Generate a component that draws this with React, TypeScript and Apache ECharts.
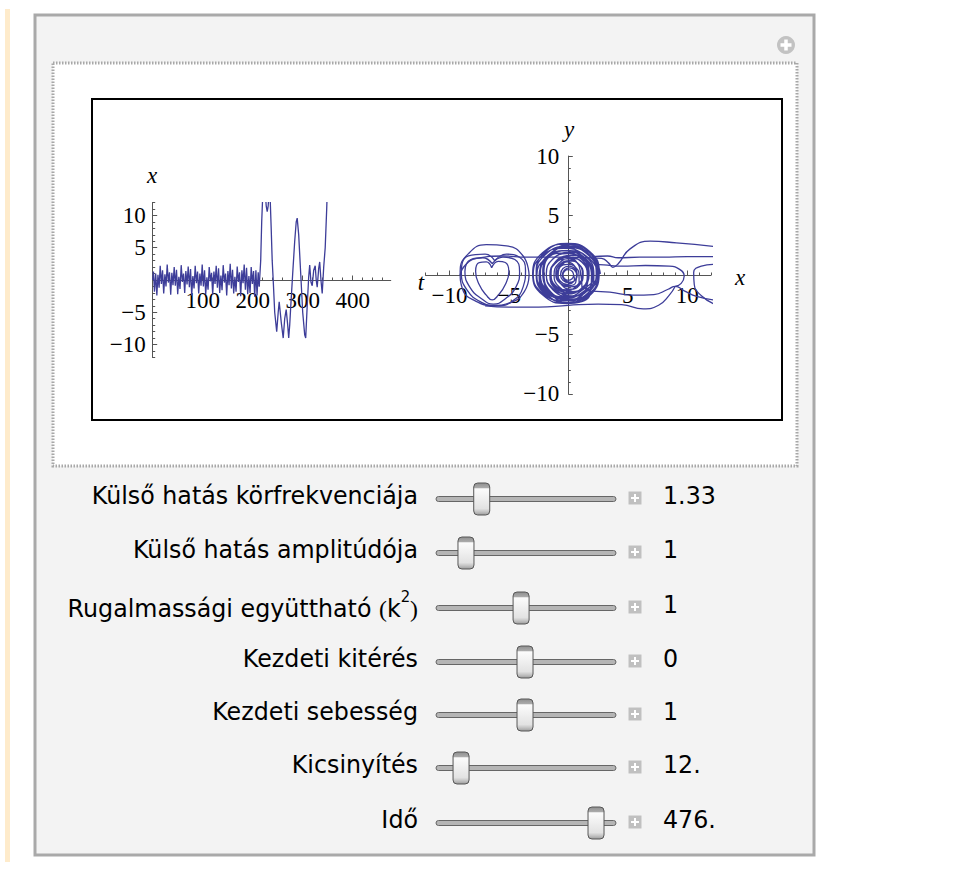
import React, { useEffect, useRef } from 'react';
import * as echarts from 'echarts';

// ---------- data: left plot x(t) ----------
const timeCalm: number[][] = [
  [0, 0], [1.5, 1.3], [3.5, -1.8], [6, 1.0], [8.3, -2.4], [10.5, 0.8], [12.8, -1.2], [15, 2.2], [17.4, -0.6], [19.7, 1.5],
  [22, -2.1], [24.4, 0.9], [26.6, -1.0], [29, 2.4], [31.3, -0.4], [33.6, 1.2], [36, -2.3], [38.3, 1.1], [40.6, -0.8], [43, 2.0],
  [45.3, -0.9], [47.6, 1.6], [50, -2.2], [52.3, 0.5], [54.6, -1.4], [57, 2.3], [59.3, -0.3], [61.7, 1.0], [64, -2.0], [66.3, 1.4],
  [68.7, -0.7], [71, 2.1], [73.4, -1.1], [75.7, 1.7], [78, -2.4], [80.4, 0.6], [82.7, -1.3], [85, 2.2], [87.4, -0.5], [89.7, 1.3],
  [92, -2.1], [94.4, 1.0], [96.7, -0.9], [99, 2.4], [101.4, -1.0], [103.7, 1.5], [106, -2.2], [108.4, 0.4], [110.7, -1.5], [113, 2.0],
  [115.4, -0.2], [117.7, 1.1], [120, -2.3], [122.4, 1.3], [124.7, -0.6], [127, 2.2], [129.4, -1.2], [131.7, 1.8], [134, -2.0], [136.4, 0.7],
  [138.7, -1.6], [141, 2.3], [143.4, -0.4], [145.7, 1.0], [148, -2.4], [150.4, 1.4], [152.7, -0.8], [155, 2.5], [157.4, -1.3], [159.7, 1.6],
  [162, -2.1], [164.4, 0.5], [166.7, -1.8], [169, 2.1], [171.4, -0.3], [173.7, 1.2], [176, -2.5], [178.4, 1.5], [180.7, -0.5], [183, 2.4],
  [185.4, -1.5], [187.7, 1.9], [190, -2.2], [192.4, 0.6], [194.7, -2.0], [197, 2.0], [199.4, -0.6], [201.7, 1.4], [204, -2.6], [206.4, 1.5],
  [208.7, -2.4], [211, 1.2], [213, -1.0]
];
const timeWild: number[][] = [
  [213, -1.0], [216, 3], [218, 9], [220, 13], [224, 15], [227, 11.5], [229, 10.6], [231, 11.5], [233, 14], [235, 12.5],
  [237, 8], [239, 3], [241, 0], [244, -5], [248, -8.0], [251, -5], [253, -3.4], [257, -6.5], [261, -9.0], [264, -6],
  [267, -4.6], [270, -7], [272, -9.0], [274, -7], [276, -4.2], [280, 1], [284, 6], [287, 9], [289, 9.6], [292, 7],
  [296, 1], [300, -5], [304, -8.5], [306, -9.0], [309, -4], [312, 0.5], [314, 2.3], [316.5, -0.3], [319, -0.9], [322, 1.5],
  [325, 2.2], [327, 0], [329, -1.1], [332, 1.8], [334, 2.8], [336.5, 0], [339, -2.1], [342, 2], [345, 5], [348, 11],
  [350, 16], [352, 22]
];

// ---------- data: right plot, phase portrait (x, y) ----------
const phaseCore: number[][] = [
  [2.70, 0.1], [1.87, 1.87], [-0.15, 2.6], [-2.17, 1.87], [-3.0, 0.1], [-2.17, -1.67], [-0.15, -2.4], [1.87, -1.67],
  [2.6, 0.3], [1.82, 1.96], [-0.05, 2.65], [-1.92, 1.96], [-2.7, 0.3], [-1.92, -1.36], [-0.05, -2.05], [1.82, -1.36],
  [2.15, 0.05], [1.4, 1.61], [-0.4, 2.25], [-2.2, 1.61], [-2.95, 0.05], [-2.2, -1.51], [-0.4, -2.15], [1.4, -1.51],
  [2.5, 0.05], [1.74, 1.71], [-0.1, 2.4], [-1.94, 1.71], [-2.7, 0.05], [-1.94, -1.61], [-0.1, -2.3], [1.74, -1.61],
  [2.45, -0.15], [1.73, 1.41], [0, 2.05], [-1.73, 1.41], [-2.45, -0.15], [-1.73, -1.71], [0, -2.35], [1.73, -1.71],
  [2.5, 0.1], [1.83, 1.83], [0.2, 2.55], [-1.43, 1.83], [-2.1, 0.1], [-1.43, -1.63], [0.2, -2.35], [1.83, -1.63],
  [1.95, -0.05], [1.28, 1.3], [-0.35, 1.85], [-1.98, 1.3], [-2.65, -0.05], [-1.98, -1.4], [-0.35, -1.95], [1.28, -1.4],
  [2.4, 0.1], [1.7, 1.66], [0, 2.3], [-1.7, 1.66], [-2.4, 0.1], [-1.7, -1.46], [0, -2.1], [1.7, -1.46],
  [2.35, 0.15], [1.71, 1.78], [0.15, 2.45], [-1.41, 1.78], [-2.05, 0.15], [-1.41, -1.48], [0.15, -2.15], [1.71, -1.48],
  [2.0, 0], [1.36, 1.45], [-0.2, 2.05], [-1.76, 1.45], [-2.4, 0], [-1.76, -1.45], [-0.2, -2.05], [1.36, -1.45],
  [1.65, 0.2], [1.09, 1.69], [-0.25, 2.3], [-1.59, 1.69], [-2.15, 0.2], [-1.59, -1.29], [-0.25, -1.9], [1.09, -1.29],
  [1.75, 0.1], [1.15, 1.48], [-0.3, 2.05], [-1.75, 1.48], [-2.35, 0.1], [-1.75, -1.28], [-0.3, -1.85], [1.15, -1.28],
  [2.15, -0.05], [1.61, 1.15], [0.3, 1.65], [-1.01, 1.15], [-1.55, -0.05], [-1.01, -1.25], [0.3, -1.75], [1.61, -1.25],
  [2.05, 0.05], [1.48, 1.36], [0.1, 1.9], [-1.28, 1.36], [-1.85, 0.05], [-1.28, -1.26], [0.1, -1.8], [1.48, -1.26],
  [1.65, 0.1], [1.14, 1.3], [-0.1, 1.8], [-1.34, 1.3], [-1.85, 0.1], [-1.34, -1.1], [-0.1, -1.6], [1.14, -1.1],
  [1.7, 0], [1.28, 0.99], [0.25, 1.4], [-0.78, 0.99], [-1.2, 0], [-0.78, -0.99], [0.25, -1.4], [1.28, -0.99],
  [1.6, 0], [1.15, 1.06], [0.05, 1.5], [-1.05, 1.06], [-1.5, 0], [-1.05, -1.06], [0.05, -1.5], [1.15, -1.06],
  [1.05, 0.1], [0.68, 1.13], [-0.2, 1.55], [-1.08, 1.13], [-1.45, 0.1], [-1.08, -0.93], [-0.2, -1.35], [0.68, -0.93],
  [1.2, 0.05], [0.8, 0.97], [-0.15, 1.35], [-1.1, 0.97], [-1.5, 0.05], [-1.1, -0.87], [-0.15, -1.25], [0.8, -0.87],
  [1.25, 0], [0.94, 0.85], [0.2, 1.2], [-0.54, 0.85], [-0.85, 0], [-0.54, -0.85], [0.2, -1.2], [0.94, -0.85],
  [1.25, 0.1], [0.91, 0.88], [0.1, 1.2], [-0.71, 0.88], [-1.05, 0.1], [-0.71, -0.68], [0.1, -1.0], [0.91, -0.68],
  [0.9, 0], [0.62, 0.64], [-0.05, 0.9], [-0.72, 0.64], [-1.0, 0], [-0.72, -0.64], [-0.05, -0.9], [0.62, -0.64],
  [0.7, 0.15], [0.47, 0.82], [-0.1, 1.1], [-0.67, 0.82], [-0.9, 0.15], [-0.67, -0.52], [-0.1, -0.8], [0.47, -0.52],
  [0.75, 0.05], [0.55, 0.55], [0.05, 0.75], [-0.45, 0.55], [-0.65, 0.05], [-0.45, -0.45], [0.05, -0.65], [0.55, -0.45],
  [0.7, 0], [0.52, 0.42], [0.1, 0.6], [-0.32, 0.42], [-0.5, 0], [-0.32, -0.42], [0.1, -0.6], [0.52, -0.42],
  [0.45, 0], [0.32, 0.32], [0, 0.45], [-0.32, 0.32], [-0.45, 0], [-0.32, -0.32], [0, -0.45], [0.32, -0.32], [0.45, 0]
];
const phaseOuterLoop: number[][] = [
  [-3.3, 0.0], [-3.8, 1.6], [-5.2, 2.45], [-6.9, 2.55], [-8.4, 1.8], [-9.1, 0.3], [-8.9, -1.2], [-7.8, -2.2],
  [-6.3, -2.55], [-4.8, -2.3], [-3.7, -1.4], [-3.3, 0.0]
];
const phaseHeartSmall: number[][] = [
  [-6.45, 0.6], [-6.9, 1.1], [-7.5, 1.05], [-7.8, 0.3], [-7.5, -0.8], [-6.9, -1.7], [-6.4, -2.1], [-5.9, -1.7],
  [-5.3, -0.8], [-5.0, 0.3], [-5.3, 1.05], [-5.9, 1.15], [-6.45, 0.6]
];
const phaseHeartMid: number[][] = [
  [-6.4, 0.95], [-7.2, 1.45], [-8.2, 1.3], [-8.7, 0.3], [-8.3, -1.0], [-7.3, -2.0], [-6.3, -2.45], [-5.3, -2.0],
  [-4.4, -1.0], [-4.1, 0.3], [-4.5, 1.3], [-5.5, 1.5], [-6.4, 0.95]
];
const phaseHeartBig: number[][] = [
  [-6.2, 1.2], [-7.0, 1.75], [-8.4, 1.6], [-9.0, 0.2], [-8.5, -1.3], [-7.3, -2.3], [-6.0, -2.6], [-4.7, -2.2],
  [-3.8, -1.0], [-3.6, 0.4], [-4.1, 1.5], [-5.2, 1.75], [-6.2, 1.2]
];
const phaseTopBranch: number[][] = [
  [-9.1, 0.0], [-8.7, 0.8], [-7.7, 1.4], [-5.5, 1.6], [-3.5, 1.5], [-1, 1.5], [1.5, 1.45], [2.8, 1.4], [3.4, 1.0],
  [3.75, 0.65], [4.2, 0.95], [5.2, 2.2], [6.9, 2.85], [9.1, 2.7], [12.3, 2.4]
];
const phaseMidBranch: number[][] = [
  [2.0, 1.55], [3.3, 1.6], [4.2, 1.45], [6, 1.5], [8, 1.5], [10, 1.55], [12.3, 1.55]
];
const phaseLowBranch: number[][] = [
  [2.2, 0.9], [3.0, 0.85], [4.5, 0.75], [6.5, 0.8], [8.5, 0.75], [9.4, 0.45], [9.75, -0.1], [9.5, -0.7], [9.0, -0.95]
];
const phaseUnderBranch: number[][] = [
  [2.0, -1.35], [3.5, -1.45], [5.5, -1.7], [7.2, -1.65], [8.4, -1.2], [9.0, -0.95], [9.8, -1.35], [10.8, -1.8], [12.3, -2.1]
];
const phaseBottomBranch: number[][] = [
  [-7.0, -2.6], [-5, -2.7], [-2.5, -2.7], [0, -2.55], [2.5, -2.45], [4.5, -2.5], [6.3, -2.85], [7.6, -2.55], [8.5, -1.7], [9.0, -0.95]
];
const phaseEdgeBranch: number[][] = [
  [12.3, 0.9], [11.2, 0.75], [10.55, 0.2], [10.6, -0.8], [11.2, -1.75], [12.3, -2.45]
];

// ---------- ticks ----------
const leftXMajor = [100, 200, 300, 400];
const leftXMinor = [20, 40, 60, 80, 120, 140, 160, 180, 220, 240, 260, 280, 320, 340, 360, 380, 420, 440, 460];
const symMajor = [-10, -5, 5, 10];
const sym12Minor = [-12, -11, -9, -8, -7, -6, -4, -3, -2, -1, 1, 2, 3, 4, 6, 7, 8, 9, 11, 12];
const sym10Minor = [-9, -8, -7, -6, -4, -3, -2, -1, 1, 2, 3, 4, 6, 7, 8, 9];

// ---------- controls ----------
const sliderLabels = [
  'Külső hatás körfrekvenciája',
  'Külső hatás amplitúdója',
  '{a|Rugalmassági együttható }{p|(}{a|k}{s|2}{p|)}',
  'Kezdeti kitérés',
  'Kezdeti sebesség',
  'Kicsinyítés',
  'Idő'
];
const sliderValues = ['1.33', '1', '1', '0', '1', '12.', '476.'];
const sliderFractions = [0.23, 0.134, 0.47, 0.494, 0.494, 0.104, 0.927];

const FONT_UI = '"DejaVu Sans", Verdana, sans-serif';
const FONT_PLOT = '"Liberation Serif", "Times New Roman", serif';
const CURVE = '#3d3d99';
const AXIS = '#555555';
const UI_SIZE = 24;
const UI_SCALE = 0.99;

function fmt(v: number) {
  return v < 0 ? '\u2212' + Math.abs(v) : String(v);
}

function axisPair(gridIndex: number, min: number, max: number, major: number[], minor: number[], pos: string, offset: number, margin: number) {
  const base = {
    type: 'value', gridIndex, min, max, position: pos, offset,
    splitLine: { show: false },
    axisLine: { show: true, onZero: false, lineStyle: { color: AXIS, width: 1 } }
  };
  return [
    {
      ...base,
      axisTick: { show: true, inside: true, length: 4.5, customValues: major, lineStyle: { color: AXIS, width: 1 } },
      axisLabel: { show: true, customValues: major, formatter: (v: number) => fmt(v), margin, fontFamily: FONT_PLOT, fontSize: 23, color: '#000' }
    },
    {
      ...base,
      axisTick: { show: true, inside: true, length: 2.5, customValues: minor, lineStyle: { color: AXIS, width: 1 } },
      axisLabel: { show: false }
    }
  ];
}

function lineSeries(data: number[][], xi: number, yi: number, smooth: boolean | number) {
  return {
    type: 'line', xAxisIndex: xi, yAxisIndex: yi, data, smooth, showSymbol: false, symbol: 'none',
    clip: true, lineStyle: { color: CURVE, width: 1.3 }, silent: true
  };
}

function buildGraphics() {
  const els: any[] = [];
  els.push({ type: 'rect', z: -20, shape: { x: 5, y: 9, width: 5, height: 853 }, style: { fill: '#feebcb' } });
  els.push({ type: 'rect', z: -20, shape: { x: 35, y: 15, width: 779, height: 840 }, style: { fill: '#f3f3f3', stroke: '#a9a9a9', lineWidth: 3 } });
  els.push({ type: 'rect', z: -19, shape: { x: 53, y: 63, width: 744, height: 403 }, style: { fill: '#ffffff', stroke: '#a8a8a8', lineWidth: 3, lineDash: [1.5, 1.5] } });
  els.push({ type: 'rect', z: -18, shape: { x: 92, y: 99, width: 690, height: 321 }, style: { fill: '#ffffff', stroke: '#000000', lineWidth: 2 } });
  els.push({ type: 'circle', z: 5, shape: { cx: 786, cy: 45, r: 9 }, style: { fill: '#c2c2c2' } });
  els.push({ type: 'line', z: 6, shape: { x1: 780.5, y1: 45, x2: 791.5, y2: 45 }, style: { stroke: '#ffffff', lineWidth: 3.5 } });
  els.push({ type: 'line', z: 6, shape: { x1: 786, y1: 39.5, x2: 786, y2: 50.5 }, style: { stroke: '#ffffff', lineWidth: 3.5 } });
  const nameStyle = { fontFamily: FONT_PLOT, fontStyle: 'italic', fontSize: 23, fill: '#000', align: 'center', verticalAlign: 'middle' };
  els.push({ type: 'text', z: 5, x: 152, y: 175, style: { ...nameStyle, text: 'x' } });
  els.push({ type: 'text', z: 5, x: 421, y: 282, style: { ...nameStyle, text: 't' } });
  els.push({ type: 'text', z: 5, x: 569, y: 129, style: { ...nameStyle, text: 'y' } });
  els.push({ type: 'text', z: 5, x: 740, y: 277, style: { ...nameStyle, text: 'x' } });

  const rowY = [496, 550, 605, 659, 712, 765, 820];
  const trackX0 = 436, trackW = 180, thumbMin = 444, thumbMax = 608;
  sliderLabels.forEach((label, i) => {
    const y = rowY[i];
    const ty = y + 3;
    els.push({
      type: 'text', z: 5, x: 418, y, scaleX: UI_SCALE,
      style: {
        text: label, fontFamily: FONT_UI, fontSize: UI_SIZE, fill: '#000', align: 'right', verticalAlign: 'middle',
        rich: {
          a: { fontFamily: FONT_UI, fontSize: UI_SIZE, lineHeight: 32, fill: '#000', verticalAlign: 'bottom' },
          p: { fontFamily: FONT_PLOT, fontSize: UI_SIZE, lineHeight: 32, fill: '#000', verticalAlign: 'bottom' },
          s: { fontFamily: FONT_UI, fontSize: 15, lineHeight: 15, fill: '#000', verticalAlign: 'top' }
        }
      }
    });
    els.push({ type: 'rect', z: 5, shape: { x: trackX0, y: ty - 2.5, width: trackW, height: 5, r: 2.5 }, style: { fill: '#b5b5b5', stroke: '#666666', lineWidth: 1 } });
    const cx = thumbMin + (thumbMax - thumbMin) * sliderFractions[i];
    els.push({
      type: 'rect', z: 6, shape: { x: cx - 8, y: ty - 16, width: 16, height: 32, r: 4 },
      style: {
        fill: {
          type: 'linear', x: 0, y: 0, x2: 0, y2: 1, colorStops: [
            { offset: 0, color: '#8f8f8f' }, { offset: 0.15, color: '#ababab' }, { offset: 0.18, color: '#fcfcfc' },
            { offset: 0.8, color: '#e2e2e2' }, { offset: 0.9, color: '#c2c2c2' }, { offset: 1, color: '#9c9c9c' }
          ]
        },
        stroke: '#575757', lineWidth: 1
      }
    });
    els.push({ type: 'rect', z: 5, shape: { x: 628.5, y: ty - 7.5, width: 13, height: 13 }, style: { fill: '#c0c0c0' } });
    els.push({ type: 'line', z: 6, shape: { x1: 631, y1: ty - 1, x2: 639, y2: ty - 1 }, style: { stroke: '#ffffff', lineWidth: 2 } });
    els.push({ type: 'line', z: 6, shape: { x1: 635, y1: ty - 5, x2: 635, y2: ty + 3 }, style: { stroke: '#ffffff', lineWidth: 2 } });
    els.push({
      type: 'text', z: 5, x: 663, y, scaleX: UI_SCALE,
      style: { text: sliderValues[i], fontFamily: FONT_UI, fontSize: UI_SIZE, fill: '#000', align: 'left', verticalAlign: 'middle' }
    });
  });
  return els;
}

export default function App() {
  const ref = useRef<HTMLDivElement>(null);
  useEffect(() => {
    if (!ref.current) return;
    const chart = echarts.init(ref.current, null, { renderer: 'svg', width: 955, height: 884 });
    // left grid: x 152.7..390.7, y 202.6..357.4 (zero line at 280)
    // right grid: x 425.7..710.9, y 156.2..393.8 (origin 568.3, 275)
    const option: any = {
      animation: false,
      backgroundColor: '#ffffff',
      grid: [
        { left: 152.7, top: 202.6, width: 238, height: 154.8, containLabel: false },
        { left: 425.7, top: 156.2, width: 285.2, height: 237.6, containLabel: false }
      ],
      xAxis: [
        ...axisPair(0, 0, 476, leftXMajor, leftXMinor, 'bottom', -77.4, 9),
        ...axisPair(1, -12, 12, symMajor, sym12Minor, 'bottom', -118.8, 9)
      ],
      yAxis: [
        ...axisPair(0, -12, 12, symMajor, sym12Minor, 'left', 0, 7),
        ...axisPair(1, -10, 10, symMajor, sym10Minor, 'left', -142.6, 9)
      ],
      series: [
        lineSeries(timeCalm, 0, 0, false),
        lineSeries(timeWild, 0, 0, false),
        lineSeries(phaseCore, 2, 2, true),
        lineSeries(phaseOuterLoop, 2, 2, true),
        lineSeries(phaseHeartSmall, 2, 2, true),
        lineSeries(phaseHeartMid, 2, 2, true),
        lineSeries(phaseHeartBig, 2, 2, true),
        lineSeries(phaseTopBranch, 2, 2, true),
        lineSeries(phaseMidBranch, 2, 2, true),
        lineSeries(phaseLowBranch, 2, 2, true),
        lineSeries(phaseUnderBranch, 2, 2, true),
        lineSeries(phaseBottomBranch, 2, 2, true),
        lineSeries(phaseEdgeBranch, 2, 2, true)
      ],
      graphic: { elements: buildGraphics() }
    };
    chart.setOption(option);
    return () => chart.dispose();
  }, []);
  return <div ref={ref} style={{ position: 'absolute', left: 0, top: 0, width: 955, height: 884 }} />;
}
